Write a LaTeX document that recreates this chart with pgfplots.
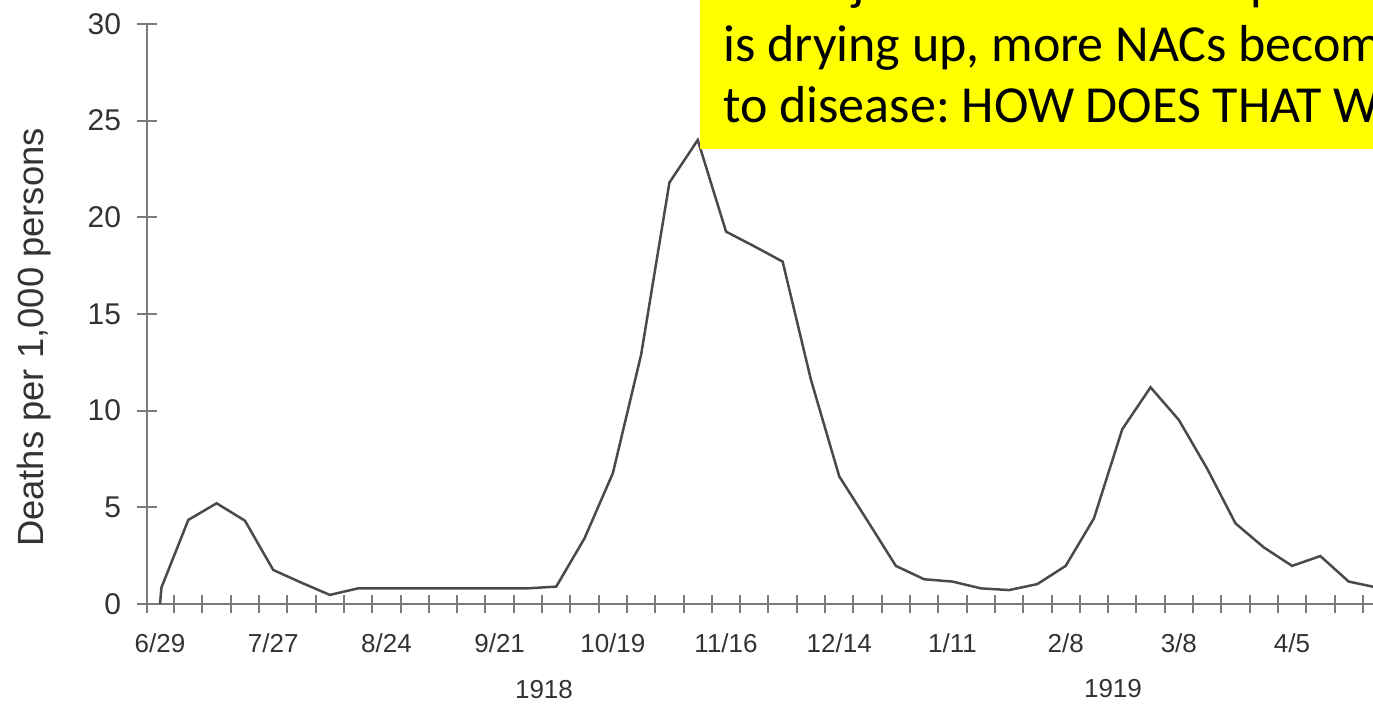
\documentclass[border=0pt]{standalone}
\usepackage{fontspec}
\setmainfont{Liberation Sans}
\newfontfamily\calibri{Carlito}
\usepackage{pgfplots}
\pgfplotsset{compat=1.18}
\definecolor{axgray}{HTML}{7A7A7A}
\definecolor{curvegray}{HTML}{4A4A4A}
\definecolor{txtgray}{HTML}{333333}
\definecolor{hlyellow}{HTML}{FFFF00}
\begin{document}
\frenchspacing
\begin{tikzpicture}
\useasboundingbox (0,0) rectangle (686.5pt,351.5pt);
\begin{axis}[
  at={(73.5pt,49.5pt)}, anchor=south west,
  scale only axis, width=613pt, height=290pt,
  xmin=-0.46, xmax=42.86, ymin=0, ymax=30,
  axis lines=left,
  axis line style={-, draw=axgray, line width=1.4pt},
  tick align=center,
  major tick length=9.5pt,
  tick style={draw=axgray, line width=1pt},
  xtick={-0.46,0.5,1.5,...,42.5},
  xticklabels={},
  extra x ticks={0,4,...,40},
  extra x tick labels={6/29,7/27,8/24,9/21,10/19,11/16,12/14,1/11,2/8,3/8,4/5},
  extra x tick style={major tick length=0pt,
    tick label style={anchor=base, inner sep=0pt, yshift=-24pt,
      font=\fontsize{13}{15}\selectfont, text=txtgray}},
  ytick={0,5,...,30},
  yticklabel style={anchor=east, inner sep=0pt, xshift=-8pt,
    font=\fontsize{15}{18}\selectfont, text=txtgray},
  /pgf/number format/assume math mode=true,
  clip=true,
]
\addplot[curvegray, line width=1.25pt] coordinates {
(0,0) (0.05,0.85) (1,4.35) (2,5.21) (3,4.31) (4,1.76) (5,1.1) (6,0.47)
(7,0.81) (8,0.81) (9,0.81) (10,0.81) (11,0.81) (12,0.81) (13,0.81) (14,0.9)
(15,3.4) (16,6.76) (17,12.9) (18,21.8) (19,24.0) (20,19.26) (21,18.5) (22,17.71)
(23,11.6) (24,6.6) (25,4.3) (26,1.97) (27,1.28) (28,1.16) (29,0.81) (30,0.72)
(31,1.03) (32,1.97) (33,4.43) (34,9.04) (35,11.21) (36,9.52) (37,7.0) (38,4.17)
(39,2.93) (40,1.97) (41,2.48) (42,1.16) (43,0.85)
};
\end{axis}
\node[rotate=90, anchor=base, inner sep=0pt, text=txtgray, font=\fontsize{18.2}{21}\selectfont] at (21.5pt,182.75pt) {Deaths per 1,000 persons};
\node[anchor=base, inner sep=0pt, text=txtgray, font=\fontsize{13}{15}\selectfont] at (272pt,2.5pt) {1918};
\node[anchor=base, inner sep=0pt, text=txtgray, font=\fontsize{13}{15}\selectfont] at (556.5pt,2.75pt) {1919};
\fill[hlyellow] (350pt,277pt) rectangle (720pt,370pt);
\begin{scope}[every node/.style={anchor=base west, inner sep=0pt, font=\calibri\fontsize{26}{31}\selectfont}]
\node at (361.5pt,351.5pt) {As major source of viral spread};
\node at (361.5pt,320.5pt) {is drying up, more NACs become susceptible};
\node at (361.5pt,290pt) {to disease: HOW DOES THAT WORK?};
\end{scope}
\end{tikzpicture}
\end{document}
